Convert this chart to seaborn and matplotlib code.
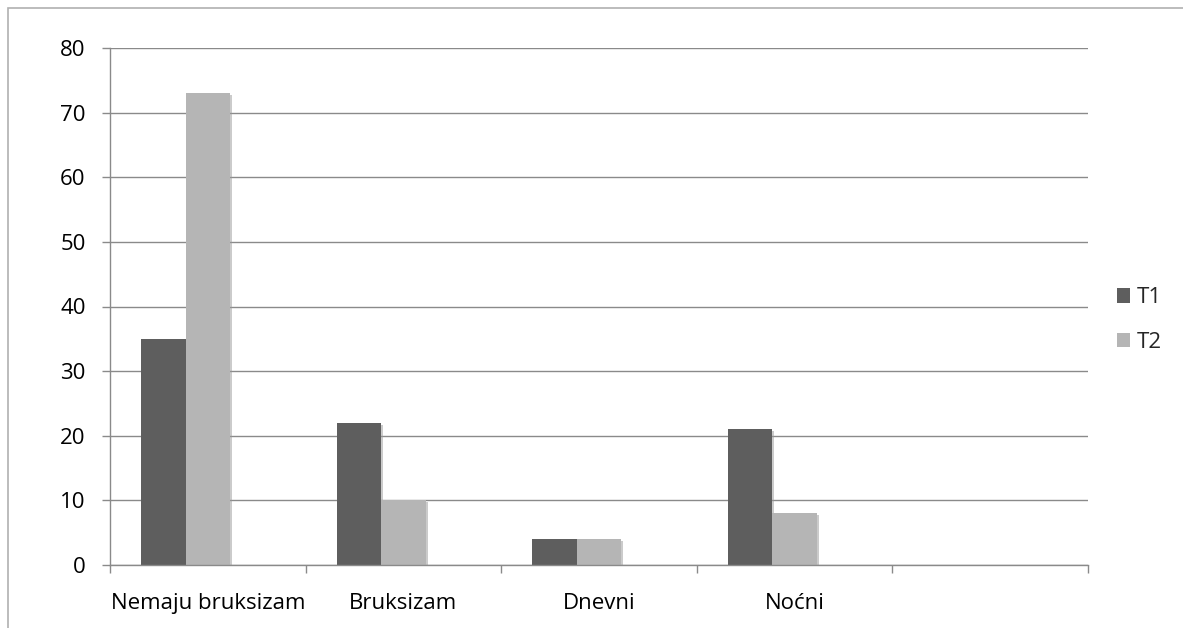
import matplotlib
matplotlib.use("Agg")
import matplotlib.pyplot as plt
import matplotlib.patheffects as pe
from matplotlib.patches import Patch, Rectangle
import seaborn as sns
import pandas as pd
import numpy as np

categories = ["Nemaju bruksizam", "Bruksizam", "Dnevni", "Noćni"]
t1_values = [35, 22, 4, 21]
t2_values = [73, 10, 4, 8]
series_names = ["T1", "T2"]

rows = []
for c, a, b in zip(categories, t1_values, t2_values):
    rows.append({"cat": c, "series": "T1", "val": a})
    rows.append({"cat": c, "series": "T2", "val": b})
    rows.append({"cat": c, "series": "T3", "val": np.nan})
df = pd.DataFrame(rows)

sns.set_theme(style="white")
plt.rcParams["font.family"] = ["Open Sans", "DejaVu Sans"]

W, H = 1183, 628
fig = plt.figure(figsize=(W / 100, H / 100), dpi=100)
ax = fig.add_axes([110 / W, 1 - 565 / H, (1088 - 110) / W, (565 - 48) / H])

colors = {"T1": "#5e5e5e", "T2": "#b5b5b5", "T3": "#ffffff"}
sns.barplot(data=df, x="cat", y="val", hue="series", hue_order=["T1", "T2", "T3"],
            order=categories, palette=colors, width=0.683, gap=0, ax=ax,
            legend=False, saturation=1, linewidth=0, errorbar=None)

for p in ax.patches:
    p.set_path_effects([pe.SimplePatchShadow(offset=(1.5, -1.5), shadow_rgbFace="#999999", alpha=0.5), pe.Normal()])

ax.set_xlim(-0.5, 4.5)
ax.set_ylim(0, 80)
ax.set_yticks(range(0, 81, 10))
ax.set_xticks(range(len(categories)))
ax.set_xticklabels(categories)
ax.set_xticks(np.arange(-0.5, 4.6, 1.0), minor=True)
ax.set_xlabel("")
ax.set_ylabel("")

gc = "#8a8a8a"
ax.yaxis.grid(True, color=gc, linewidth=1)
ax.set_axisbelow(True)
for s in ["top", "right"]:
    ax.spines[s].set_visible(False)
for s in ["left", "bottom"]:
    ax.spines[s].set_color(gc)
    ax.spines[s].set_linewidth(1)

fs = 16
ax.tick_params(axis="y", which="major", left=True, length=5.5, width=1, color=gc,
               labelsize=fs, pad=12, labelcolor="black")
ax.tick_params(axis="x", which="major", bottom=False, length=0, labelsize=fs, pad=20,
               labelcolor="black")
ax.tick_params(axis="x", which="minor", bottom=True, length=6, width=1, color=gc)

handles = [Patch(facecolor=colors["T1"], edgecolor="none"),
           Patch(facecolor=colors["T2"], edgecolor="none")]
fig.legend(handles, series_names, loc="center left", bbox_to_anchor=(1106 / W, 1 - 320 / H),
           frameon=False, fontsize=fs, handlelength=0.6, handleheight=0.6,
           handletextpad=0.3, labelspacing=1.05, borderpad=0)

fig.add_artist(Rectangle((8 / W, -0.1), 1.2, 1 - 8 / H + 0.1, transform=fig.transFigure,
                         fill=False, edgecolor="#b0b0b0", linewidth=1.2))

fig.savefig("out.png", dpi=100)
